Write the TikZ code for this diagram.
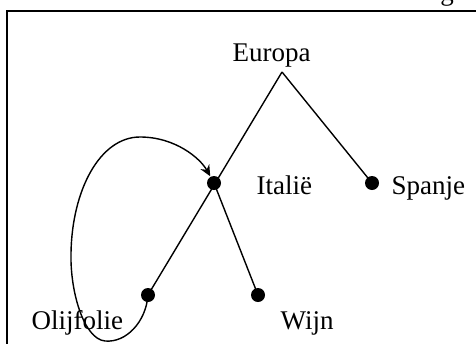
\documentclass[tikz,border=0pt]{standalone}
\usepackage{fontspec}
\setmainfont{Liberation Serif}
\usetikzlibrary{positioning,arrows.meta}

\tikzset{
  dot/.style={circle,fill=black,inner sep=0pt,minimum size=14pt},
  label/.style={font=\fontsize{27}{31}\selectfont,inner sep=0pt,anchor=base west}
}

\begin{document}
\begin{tikzpicture}[x=1pt,y=-1pt,line width=1.4pt]

    \clip (0,0) rectangle (476,343);
    \fill[white] (0,0) rectangle (476,343);

    % --- frame ---
    \draw[line width=1.5pt] (7,360) -- (7,11) -- (490,11);
    \node[label,anchor=base] (cut) at (447,0) {g};

    % --- tree ---
    \node[label] (europa) at (232,61) {Europa};
    \coordinate (top) at (282,72);

    \node[dot] (italie) at (214,183) {};
    \node[dot] (spanje) at (372,183) {};
    \node[dot] (olijf) at (148,295) {};
    \node[dot] (wijn) at (258,295) {};

    \begin{scope}[every node/.style={label}]
      \node (italietxt) at (256,194) {Italië};
      \node (spanjetxt) at (391,194) {Spanje};
      \node (olijftxt) at (31,329) {Olijfolie};
      \node (wijntxt) at (280,329) {Wijn};
    \end{scope}

    \draw (top) -- (olijf.center);
    \draw (top) -- (spanje.center);
    \draw (italie.center) -- (wijn.center);

    % --- loop back to Italie ---
    \draw[-{Stealth[length=11pt,width=10pt]}] (olijf.center)
      .. controls (146,322) and (126,343) .. (105,341)
      .. controls (84,339) and (70,292) .. (71,253)
      .. controls (72,190) and (100,137) .. (140,137)
      .. controls (175,137) and (200,158) .. (italie);

\end{tikzpicture}
\end{document}
